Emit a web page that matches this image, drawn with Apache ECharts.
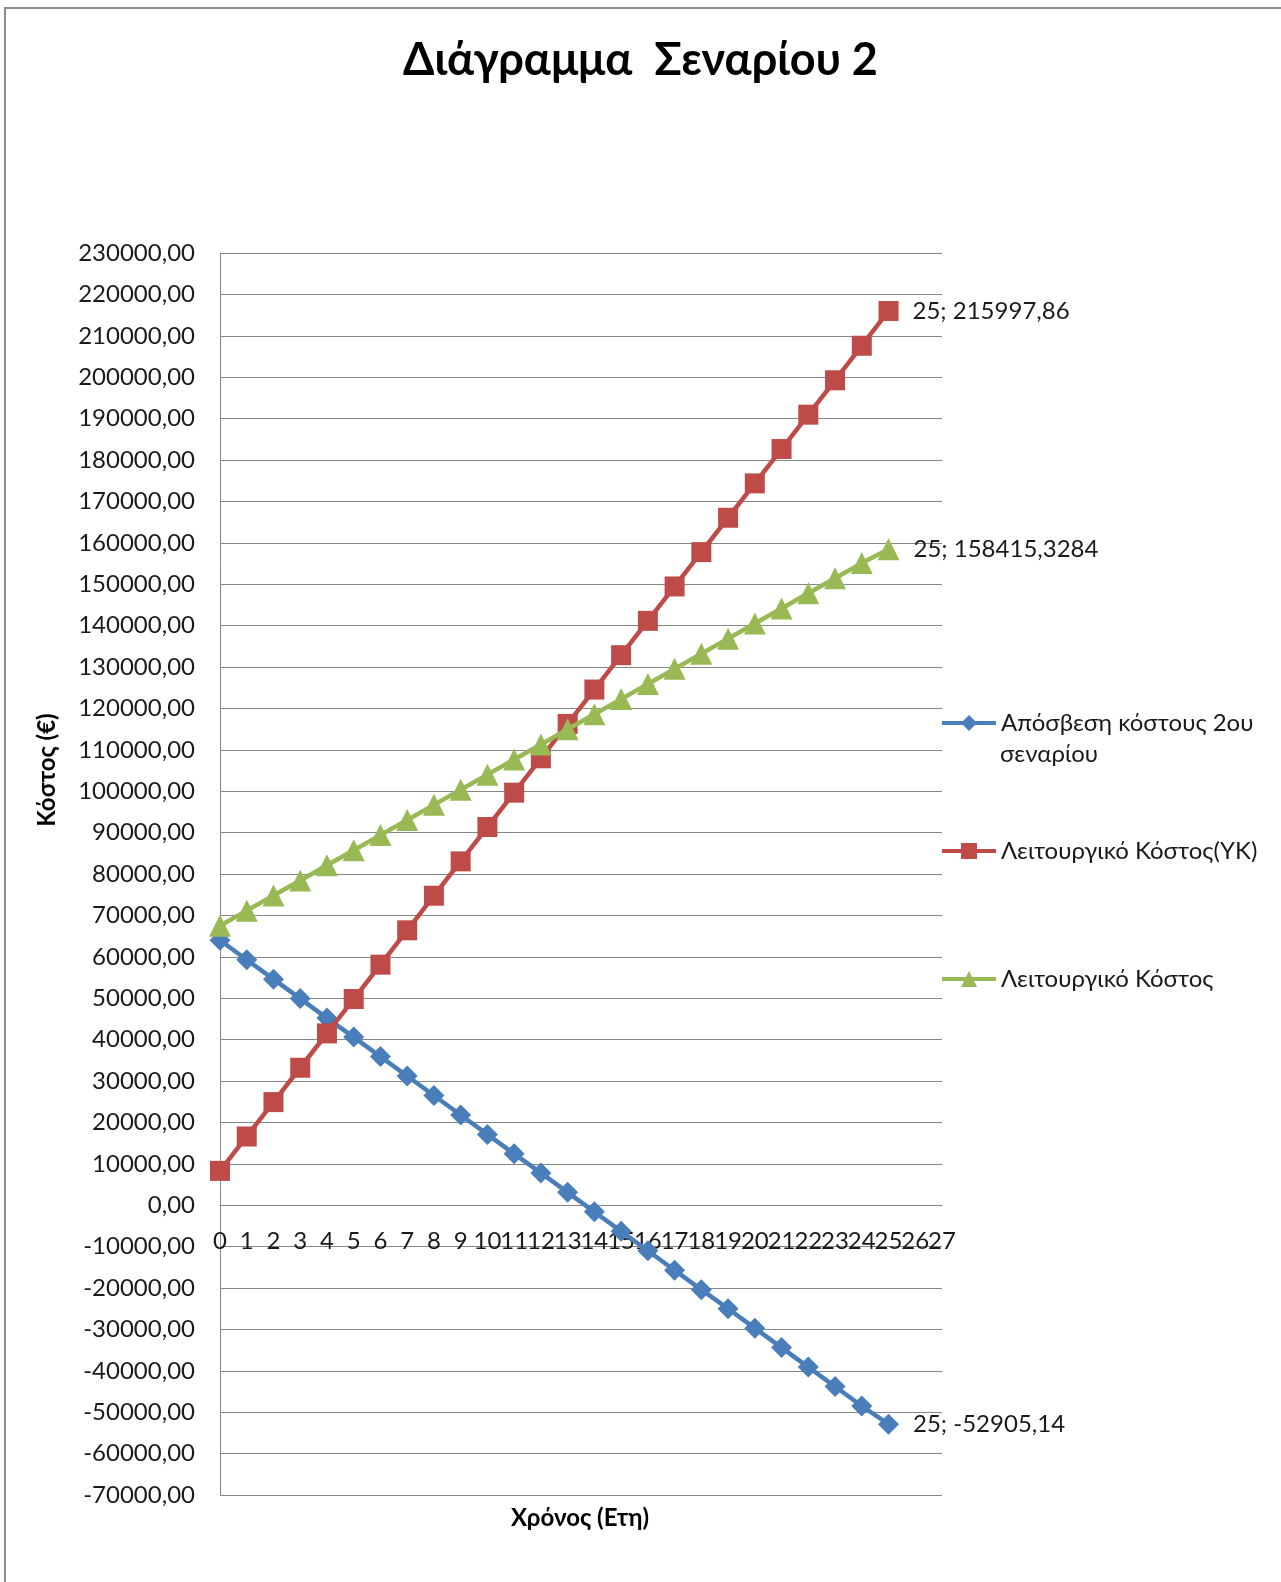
<!DOCTYPE html>
<html>
<head>
<meta charset="utf-8">
<script src="https://cdn.jsdelivr.net/npm/echarts@6/dist/echarts.min.js"></script>
<style>
  html, body { margin: 0; padding: 0; background: #ffffff; }
  #chart { width: 1281px; height: 1582px; }
</style>
</head>
<body>
<div id="chart"></div>
<script>
// Years on the horizontal axis (0..27)
const years = ['0','1','2','3','4','5','6','7','8','9','10','11','12','13','14','15','16','17','18','19','20','21','22','23','24','25','26','27'];

// Series names
const nameDepreciation = 'Απόσβεση κόστους 2ου σεναρίου';
const nameOperatingYK = 'Λειτουργικό Κόστος(ΥΚ)';
const nameOperating = 'Λειτουργικό Κόστος';

// Values per year (0..25)
const depreciation = [64000, 59300, 54600, 49900, 45200, 40600, 35900, 31200, 26500, 21800, 17100, 12400, 7800, 3100, -1600, -6300, -11000, -15700, -20400, -25000, -29700, -34400, -39100, -43800, -48500, -52905.14];
const operatingYK = [8290, 16600, 24900, 33200, 41500, 49800, 58100, 66400, 74750, 83050, 91350, 99650, 107950, 116250, 124550, 132850, 141150, 149450, 157750, 166050, 174350, 182650, 190950, 199250, 207600, 215997.86];
const operating = [67500, 71150, 74800, 78450, 82100, 85750, 89400, 93050, 96700, 100350, 104000, 107650, 111300, 114950, 118600, 122250, 125900, 129550, 133200, 136850, 140500, 144150, 147800, 151450, 155100, 158415.3284];

// Axis range
const yMin = -70000, yMax = 230000, yStep = 10000;

// Plot area edges (px)
const gridTop = 253, gridBottom = 87, chartHeight = 1582;

const FONT = 'Lato, "Open Sans", sans-serif';
const TEXT = '#1a1a1a';
const fmtComma = v => String(v).replace('.', ',');

// Year labels sit just under the zero line: offset from the bottom edge
// of the plot up to the y position of value 0, plus a small gap.
const plotH = chartHeight - gridTop - gridBottom;
const zeroFromBottom = plotH * (0 - yMin) / (yMax - yMin);
const yearLabelMargin = -(zeroFromBottom - 36);

// Attach a "year; value" label to the last point of a series
function withEndLabel(values) {
  return values.map((v, i) => {
    if (i !== values.length - 1) return v;
    return {
      value: v,
      label: {
        show: true,
        position: 'right',
        distance: 14,
        fontFamily: FONT,
        fontSize: 24,
        color: TEXT,
        formatter: p => years[p.dataIndex] + '; ' + fmtComma(p.value)
      }
    };
  });
}

// One legend block per series, stacked down the right-hand side
function legendFor(name, top) {
  return {
    orient: 'vertical',
    left: 940,
    top: top,
    data: [name],
    itemWidth: 54,
    itemHeight: 20,
    itemGap: 0,
    padding: 0,
    selectedMode: false,
    lineStyle: { width: 4 },
    formatter: n => n === nameDepreciation ? 'Απόσβεση κόστους 2ου' : n,
    textStyle: { fontFamily: FONT, fontSize: 24, color: TEXT }
  };
}

const chart = echarts.init(document.getElementById('chart'), null, { renderer: 'canvas' });

chart.setOption({
  animation: false,
  backgroundColor: '#ffffff',
  title: {
    text: 'Διάγραμμα  Σεναρίου 2',
    left: 'center',
    top: 33,
    textStyle: { fontFamily: FONT, fontWeight: 'bold', fontSize: 45, color: '#000000' }
  },
  legend: [
    legendFor(nameDepreciation, 711),
    legendFor(nameOperatingYK, 839),
    legendFor(nameOperating, 967)
  ],
  grid: { left: 220, right: 339, top: gridTop, bottom: gridBottom, containLabel: false },
  xAxis: {
    type: 'category',
    data: years,
    boundaryGap: false,
    axisLine: { onZero: true, lineStyle: { color: '#868686', width: 1 } },
    axisTick: { show: false },
    axisLabel: { interval: 0, margin: yearLabelMargin, verticalAlign: 'middle', fontFamily: FONT, fontSize: 24, color: TEXT },
    splitLine: { show: false }
  },
  yAxis: {
    type: 'value',
    min: yMin,
    max: yMax,
    interval: yStep,
    axisLine: { show: true, lineStyle: { color: '#868686', width: 1 } },
    axisTick: { show: false },
    axisLabel: { margin: 25, fontFamily: FONT, fontSize: 24, color: TEXT, formatter: v => v.toFixed(2).replace('.', ',') },
    splitLine: { show: true, lineStyle: { color: '#868686', width: 1 } }
  },
  graphic: [
    {
      type: 'rect',
      shape: { x: 5, y: 8, width: 1300, height: 1600 },
      style: { fill: 'none', stroke: '#8a8a8a', lineWidth: 2 },
      silent: true
    },
    {
      type: 'text',
      x: 1000, y: 754,
      style: { text: 'σεναρίου', fontFamily: FONT, fontSize: 24, fill: TEXT, textAlign: 'left', textVerticalAlign: 'middle' }
    },
    {
      type: 'text',
      x: 47, y: 770,
      rotation: Math.PI / 2,
      style: { text: 'Κόστος (€)', fontFamily: FONT, fontWeight: 'bold', fontSize: 24, fill: '#000000', textAlign: 'center', textVerticalAlign: 'middle' }
    },
    {
      type: 'text',
      x: 580, y: 1518,
      style: { text: 'Χρόνος (Ετη)', fontFamily: FONT, fontWeight: 'bold', fontSize: 24, fill: '#000000', textAlign: 'center', textVerticalAlign: 'middle' }
    }
  ],
  series: [
    {
      name: nameDepreciation,
      type: 'line',
      data: withEndLabel(depreciation),
      symbol: 'diamond',
      symbolSize: 21,
      showAllSymbol: true,
      lineStyle: { color: '#4A7EBB', width: 4.5 },
      itemStyle: { color: '#4A7EBB' },
      z: 3
    },
    {
      name: nameOperatingYK,
      type: 'line',
      data: withEndLabel(operatingYK),
      symbol: 'rect',
      symbolSize: 20,
      showAllSymbol: true,
      lineStyle: { color: '#BE4B48', width: 4.5 },
      itemStyle: { color: '#BE4B48' },
      z: 4
    },
    {
      name: nameOperating,
      type: 'line',
      data: withEndLabel(operating),
      symbol: 'triangle',
      symbolSize: 22,
      showAllSymbol: true,
      lineStyle: { color: '#98B954', width: 4.5 },
      itemStyle: { color: '#98B954' },
      z: 5
    }
  ]
});
</script>
</body>
</html>
